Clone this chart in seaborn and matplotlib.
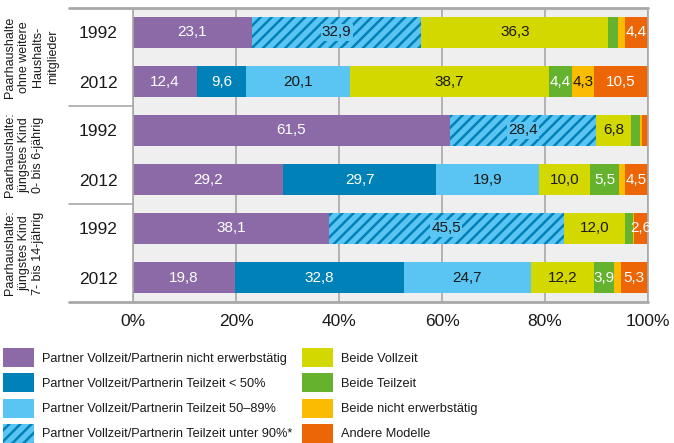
import matplotlib
matplotlib.use("Agg")
import numpy as np
import pandas as pd
import matplotlib.pyplot as plt
import matplotlib.transforms as mtransforms
from matplotlib.patches import Patch
import seaborn as sns

# rows (top to bottom)
row_ids = ["g1_1992", "g1_2012", "g2_1992", "g2_2012", "g3_1992", "g3_2012"]
years = ["1992", "2012", "1992", "2012", "1992", "2012"]
groups = [
    "Paarhaushalte\nohne weitere\nHaushalts-\nmitglieder",
    "Paarhaushalte:\njüngstes Kind\n0- bis 6-jährig",
    "Paarhaushalte:\njüngstes Kind\n7- bis 14-jährig",
]

segments = [
    "Partner Vollzeit/Partnerin nicht erwerbstätig",
    "Partner Vollzeit/Partnerin Teilzeit < 50%",
    "Partner Vollzeit/Partnerin Teilzeit 50–89%",
    "Partner Vollzeit/Partnerin Teilzeit unter 90%*",
    "Beide Vollzeit",
    "Beide Teilzeit",
    "Beide nicht erwerbstätig",
    "Andere Modelle",
]

nicht_erwerbstaetig = [23.1, 12.4, 61.5, 29.2, 38.1, 19.8]
teilzeit_u50 = [0, 9.6, 0, 29.7, 0, 32.8]
teilzeit_50_89 = [0, 20.1, 0, 19.9, 0, 24.7]
teilzeit_u90 = [32.9, 0, 28.4, 0, 45.5, 0]
beide_vollzeit = [36.3, 38.7, 6.8, 10.0, 12.0, 12.2]
beide_teilzeit = [1.9, 4.4, 1.8, 5.5, 1.4, 3.9]
beide_nicht = [1.4, 4.3, 0.4, 1.2, 0.3, 1.3]
andere = [4.4, 10.5, 1.1, 4.5, 2.6, 5.3]

colors = ["#8b6aa7", "#0081b8", "#5ac5f2", "#5ac5f2",
          "#d3d800", "#64b22e", "#fbbb00", "#ec6607"]
text_colors = ["white", "white", "#1a1a1a", "#1a1a1a",
               "#1a1a1a", "white", "#1a1a1a", "white"]

values = np.array([nicht_erwerbstaetig, teilzeit_u50, teilzeit_50_89, teilzeit_u90,
                   beide_vollzeit, beide_teilzeit, beide_nicht, andere])
cum = values.cumsum(axis=0)

sns.set_style("white")
plt.rcParams["font.family"] = ["Liberation Sans Narrow", "Liberation Sans", "DejaVu Sans"]
plt.rcParams["hatch.linewidth"] = 1.8

fig = plt.figure(figsize=(6.74, 4.43), dpi=100)
ax = fig.add_axes([133 / 674, 1 - 302 / 443, 515 / 674, 294 / 443])
ax.set_facecolor("#efefef")

# stacked bars: draw cumulative totals from right to left so earlier segments cover later ones
for k in range(len(segments) - 1, -1, -1):
    df = pd.DataFrame({"row": row_ids, "val": cum[k]})
    kw = {}
    if k == 3:
        kw = dict(hatch="///", edgecolor="#0081b8")
    sns.barplot(data=df, x="val", y="row", orient="h", color=colors[k],
                saturation=1, width=0.62, linewidth=0, ax=ax, **kw)

# value labels
for k in range(len(segments)):
    for i in range(len(row_ids)):
        v = values[k, i]
        if v < 2.5:
            continue
        xc = cum[k, i] - v / 2
        lab = f"{v:.1f}".replace(".", ",")
        bbox = None
        if k == 3:
            bbox = dict(boxstyle="square,pad=0.08", facecolor="#5ac5f2", edgecolor="none")
        ax.text(xc, i, lab, ha="center", va="center", fontsize=11,
                color=text_colors[k], bbox=bbox)

ax.set_xlim(0, 100)
ax.set_ylim(5.5, -0.5)
ax.set_xticks([0, 20, 40, 60, 80, 100])
ax.set_xticklabels(["0%", "20%", "40%", "60%", "80%", "100%"], fontsize=12.5, color="#1a1a1a")
ax.set_yticks(range(len(row_ids)))
ax.set_yticklabels(years, fontsize=12.5, color="#1a1a1a")
ax.tick_params(axis="y", length=0, pad=11)
ax.tick_params(axis="x", length=5, width=1.2, color="#a8a8a8", pad=4)
ax.set_xlabel("")
ax.set_ylabel("")
ax.set_axisbelow(True)
ax.grid(axis="x", color="#a8a8a8", linewidth=1.2)
ax.grid(axis="y", visible=False)

for side in ["left", "right"]:
    ax.spines[side].set_color("#a8a8a8")
    ax.spines[side].set_linewidth(1.2)
for side in ["top", "bottom"]:
    ax.spines[side].set_visible(False)

# lines that extend into the label panel
trans = mtransforms.blended_transform_factory(ax.transAxes, ax.transData)
x0 = (69 - 133) / 515
for y in [-0.5, 5.5]:
    ax.plot([x0, 1], [y, y], color="#a8a8a8", lw=2, transform=trans, clip_on=False)
for y in [1.5, 3.5]:
    ax.plot([x0, 0], [y, y], color="#a8a8a8", lw=1.2, transform=trans, clip_on=False)

# group labels
ftrans = mtransforms.blended_transform_factory(fig.transFigure, ax.transData)
for g, yc in zip(groups, [0.5, 2.5, 4.5]):
    ax.text(4 / 674, yc, g, transform=ftrans, rotation=90, ha="left", va="center",
            multialignment="center", fontsize=9, linespacing=1.25, color="#1a1a1a")

# legend in two blocks
handles = []
for k in range(len(segments)):
    if k == 3:
        handles.append(Patch(facecolor=colors[k], edgecolor="#0081b8", hatch="///",
                             linewidth=0, label=segments[k]))
    else:
        handles.append(Patch(facecolor=colors[k], linewidth=0, label=segments[k]))

leg_kw = dict(loc="upper left", frameon=False, fontsize=9.2, handlelength=2.42,
              handleheight=1.91, handletextpad=0.63, labelspacing=0.49,
              borderpad=0, borderaxespad=0, labelcolor="#1a1a1a")
leg1 = fig.legend(handles=handles[:4], bbox_to_anchor=(3 / 674, 1 - 348 / 443), **leg_kw)
leg2 = fig.legend(handles=handles[4:], bbox_to_anchor=(302 / 674, 1 - 348 / 443), **leg_kw)

fig.savefig("out.png", dpi=100)
plt.close(fig)
